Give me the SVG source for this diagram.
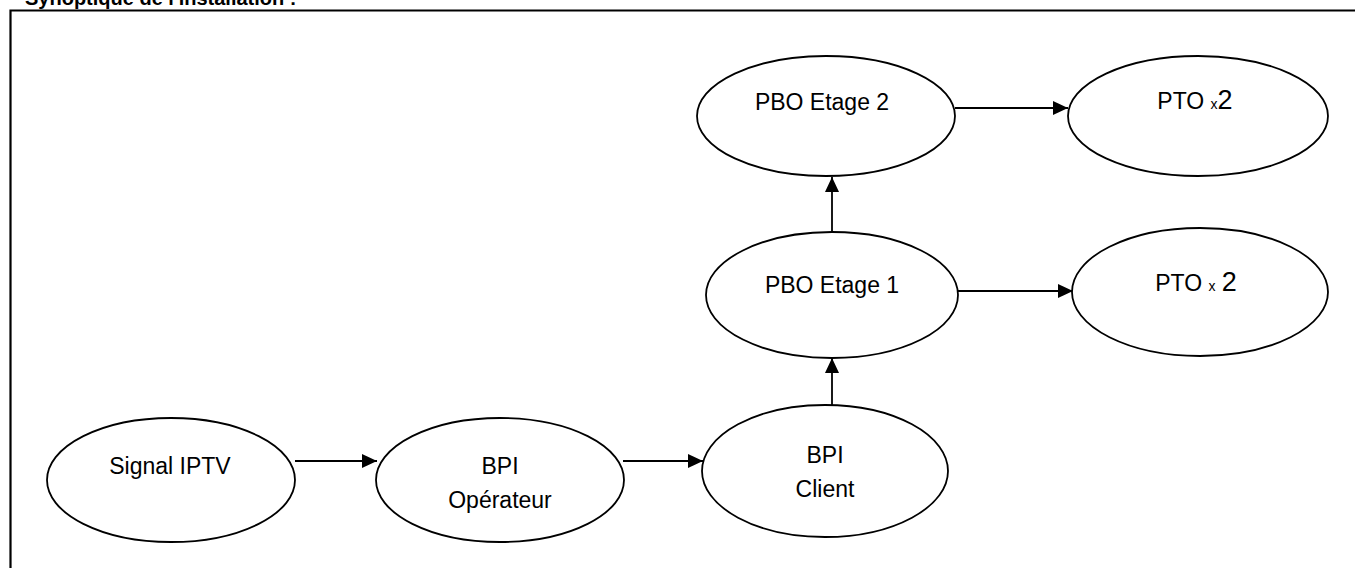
<svg xmlns="http://www.w3.org/2000/svg" width="1355" height="568" viewBox="0 0 1355 568">
  <style>
    .node { fill: #ffffff; stroke: #000000; stroke-width: 1.8; }
    .lbl { font-family: "Liberation Sans", Arial, sans-serif; font-size: 23px; fill: #000000; text-anchor: middle; }
    .sm { font-size: 14px; }
    .big { font-size: 27px; }
    .edge { stroke: #000000; stroke-width: 1.8; fill: none; marker-end: url(#arrow); }
    .frame { stroke: #000000; stroke-width: 2.2; fill: none; }
    .title { font-family: "Liberation Sans", Arial, sans-serif; font-size: 20px; font-weight: bold; fill: #000000; }
  </style>
  <defs>
    <marker id="arrow" markerUnits="userSpaceOnUse" markerWidth="15" markerHeight="14" refX="15" refY="7" orient="auto">
      <path d="M0,0 L15,7 L0,14 Z" fill="#000000"/>
    </marker>
  </defs>

  <rect width="1355" height="568" fill="#ffffff"/>

  <!-- heading and page frame -->
  <text class="title" x="25" y="5">Synoptique de l'installation :</text>
  <path class="frame" d="M10.5,568 V10.5 H1355"/>

  <!-- connectors -->
  <g id="connectors">
    <line class="edge" x1="295" y1="461" x2="377" y2="461"/>
    <line class="edge" x1="623" y1="461" x2="703" y2="461"/>
    <line class="edge" x1="832" y1="405" x2="832" y2="358"/>
    <line class="edge" x1="958" y1="291" x2="1073" y2="291"/>
    <line class="edge" x1="832" y1="233" x2="832" y2="177"/>
    <line class="edge" x1="955" y1="108" x2="1068" y2="108"/>
  </g>

  <g id="signal-iptv">
    <ellipse class="node" cx="171" cy="480" rx="124" ry="62"/>
    <text class="lbl" x="170" y="474">Signal IPTV</text>
  </g>

  <g id="bpi-operateur">
    <ellipse class="node" cx="500" cy="480" rx="124" ry="62"/>
    <text class="lbl" x="500" y="474">BPI</text>
    <text class="lbl" x="500" y="508">Opérateur</text>
  </g>

  <g id="bpi-client">
    <ellipse class="node" cx="825" cy="471" rx="123" ry="66"/>
    <text class="lbl" x="825" y="463">BPI</text>
    <text class="lbl" x="825" y="497">Client</text>
  </g>

  <g id="pbo-etage-1">
    <ellipse class="node" cx="832" cy="295" rx="126" ry="63"/>
    <text class="lbl" x="832" y="293">PBO Etage 1</text>
  </g>

  <g id="pto-etage-1">
    <ellipse class="node" cx="1200" cy="292" rx="128" ry="64"/>
    <text class="lbl" x="1196" y="291">PTO <tspan class="sm">x</tspan> <tspan class="big">2</tspan></text>
  </g>

  <g id="pbo-etage-2">
    <ellipse class="node" cx="826" cy="116" rx="129" ry="60"/>
    <text class="lbl" x="822" y="110">PBO Etage 2</text>
  </g>

  <g id="pto-etage-2">
    <ellipse class="node" cx="1198" cy="116" rx="130" ry="60"/>
    <text class="lbl" x="1195" y="109">PTO <tspan class="sm">x</tspan><tspan class="big">2</tspan></text>
  </g>
</svg>
